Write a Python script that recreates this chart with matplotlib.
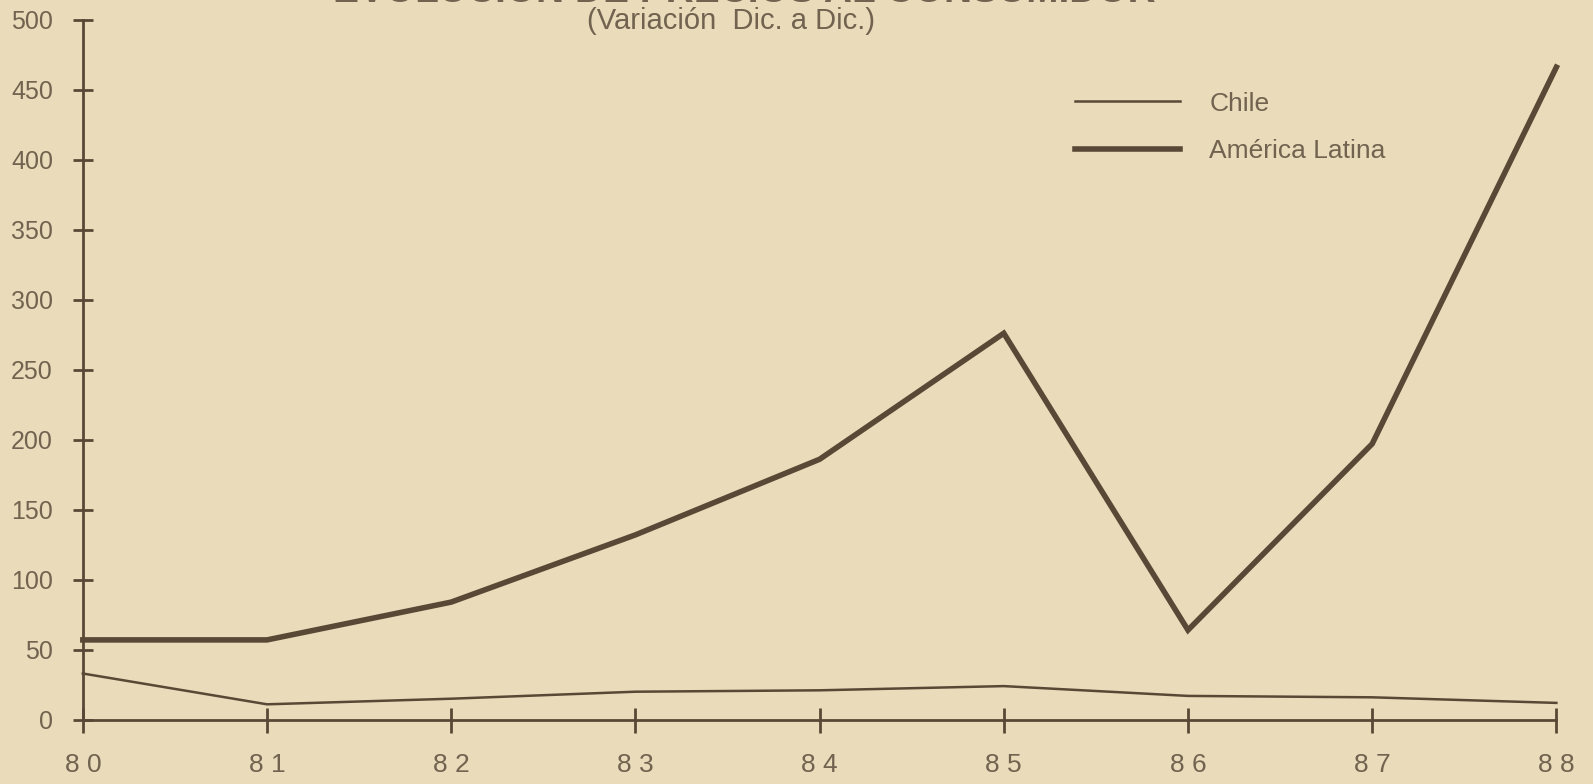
import matplotlib
matplotlib.use('Agg')
import matplotlib.pyplot as plt

# Evolución de precios al consumidor, variación Dic. a Dic. (%)
years = [80, 81, 82, 83, 84, 85, 86, 87, 88]
year_labels = ['8 0', '8 1', '8 2', '8 3', '8 4', '8 5', '8 6', '8 7', '8 8']
chile = [33, 11, 15, 20, 21, 24, 17, 16, 12]
america_latina = [57, 57, 84, 132, 186, 276, 64, 197, 466]
y_ticks = [0, 50, 100, 150, 200, 250, 300, 350, 400, 450, 500]

BG = '#EADBBA'
INK = '#5A4836'
TXT = '#716350'

plt.rcParams['font.family'] = ['Liberation Sans', 'DejaVu Sans']

fig = plt.figure(figsize=(15.93, 7.84), dpi=100, facecolor=BG)
ax = fig.add_axes([0.052, 0.082, 0.925, 0.893])
ax.set_facecolor(BG)

ax.plot(years, chile, color=INK, linewidth=1.8, label='Chile', clip_on=False)
ax.plot(years, america_latina, color=INK, linewidth=4, label='América Latina',
        clip_on=False, solid_joinstyle='miter')

ax.set_xlim(80, 88)
ax.set_ylim(0, 500)
ax.set_yticks(y_ticks)
ax.set_xticks(years)
ax.set_xticklabels(year_labels)

for s in ['top', 'right']:
    ax.spines[s].set_visible(False)
for s in ['left', 'bottom']:
    ax.spines[s].set_color(INK)
    ax.spines[s].set_linewidth(2)

ax.tick_params(axis='y', direction='inout', length=15, width=2, color=INK,
               labelsize=18, labelcolor=TXT, pad=14)
ax.tick_params(axis='x', direction='inout', length=18, width=2, color=INK,
               labelsize=19, labelcolor=TXT, pad=15)

leg = ax.legend(loc='upper left', bbox_to_anchor=(0.657, 0.931), frameon=False,
                fontsize=19, handlelength=4.0, handletextpad=1.1,
                labelspacing=0.88, labelcolor=TXT)

fig.text(0.459, 0.973, '(Variación  Dic. a Dic.)', ha='center', va='center',
         fontsize=21, color=TXT)
# title is cut off at the top edge in the original scan
fig.text(0.467, 1 - 1.5 / 784, 'EVOLUCION DE PRECIOS AL CONSUMIDOR', ha='center',
         va='baseline', fontsize=28, fontweight='bold', color=TXT)

fig.savefig('out.png', dpi=100, facecolor=BG)
